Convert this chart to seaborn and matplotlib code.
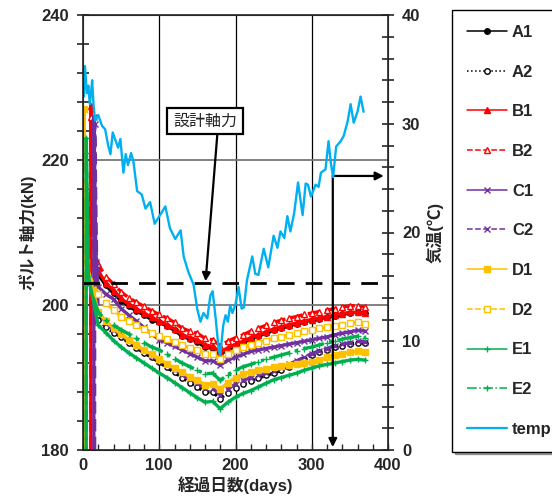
import matplotlib
matplotlib.use("Agg")
import numpy as np
import pandas as pd
import seaborn as sns
import matplotlib.pyplot as plt
from matplotlib.ticker import MultipleLocator
from matplotlib.lines import Line2D

# ---- data ----
names = ['A1', 'A2', 'B1', 'B2', 'C1', 'C2', 'D1', 'D2', 'E1', 'E2']

# tightening: day of start, peak value, value about 3 days later
start_days = [0, 0, 10, 10, 14, 15, 1, 1, 4, 4]
peaks = [227.0, 222.0, 227.5, 226.0, 226.0, 225.0, 227.0, 218.0, 223.0, 221.0]
settle = [208.0, 206.0, 209.0, 209.5, 206.0, 205.0, 206.0, 205.0, 204.0, 203.0]

days = [20, 30, 40, 50, 60, 70, 80, 90, 100, 110, 120, 130, 140, 150, 160, 170,
        180, 190, 200, 210, 220, 230, 240, 250, 260, 270, 280, 290, 300, 310,
        320, 330, 340, 350, 360, 370]

A1 = [204.2, 202.7, 201.6, 200.6, 199.8, 199.2, 198.6, 198.0, 197.6, 197.1, 196.5, 195.7,
      195.3, 194.9, 194.2, 194.0, 193.2, 193.8, 194.3, 194.8, 195.3, 195.7, 196.1, 196.5,
      196.8, 197.1, 197.4, 197.7, 197.9, 198.1, 198.3, 198.5, 198.7, 198.9, 199.0, 198.9]
A2 = [198.0, 197.0, 196.2, 195.6, 194.8, 194.1, 193.4, 192.8, 192.1, 191.4, 190.7, 190.0,
      189.3, 188.7, 188.0, 188.0, 187.1, 187.9, 188.6, 189.1, 189.5, 189.9, 190.3, 190.6,
      191.0, 191.5, 192.0, 192.5, 193.1, 193.5, 193.8, 194.2, 194.4, 194.6, 194.8, 194.7]
B1 = [204.7, 203.0, 202.0, 200.9, 200.1, 199.5, 198.9, 198.3, 197.8, 197.3, 196.7, 195.9,
      195.5, 195.2, 194.5, 194.3, 193.5, 194.1, 194.6, 195.0, 195.5, 195.9, 196.3, 196.7,
      197.0, 197.3, 197.5, 197.8, 198.0, 198.2, 198.4, 198.6, 198.8, 199.0, 199.0, 198.9]
B2 = [205.6, 203.9, 202.9, 201.8, 201.0, 200.4, 199.8, 199.2, 198.7, 198.2, 197.6, 196.8,
      196.4, 196.1, 195.4, 195.2, 194.4, 195.0, 195.5, 195.9, 196.4, 196.8, 197.2, 197.6,
      197.9, 198.2, 198.4, 198.7, 198.9, 199.1, 199.3, 199.5, 199.7, 199.9, 199.9, 199.7]
C1 = [202.5, 201.5, 200.8, 199.5, 198.6, 197.8, 196.9, 196.0, 195.2, 194.8, 194.3, 193.8,
      193.3, 192.8, 192.3, 192.3, 191.7, 192.4, 192.8, 193.2, 193.6, 193.8, 194.0, 194.2,
      194.4, 194.6, 194.8, 195.0, 195.2, 195.4, 195.6, 195.9, 196.1, 196.3, 196.5, 196.4]
C2 = [199.0, 197.6, 196.6, 195.8, 195.0, 194.3, 193.6, 193.0, 192.3, 191.7, 191.1, 190.4,
      189.8, 189.2, 188.5, 188.5, 187.6, 188.4, 189.1, 189.6, 190.0, 190.3, 190.6, 190.9,
      191.3, 191.8, 192.3, 192.8, 193.3, 193.7, 194.0, 194.4, 194.6, 194.8, 195.0, 194.9]
D1 = [199.0, 197.8, 196.8, 196.0, 195.2, 194.5, 193.8, 193.2, 192.5, 191.9, 191.3, 190.7,
      190.1, 189.6, 189.0, 189.1, 188.4, 189.3, 190.0, 190.5, 190.8, 191.0, 191.2, 191.4,
      191.6, 191.7, 191.9, 192.0, 192.1, 192.4, 192.8, 193.1, 193.3, 193.5, 193.6, 193.5]
D2 = [201.5, 200.3, 199.3, 198.4, 197.8, 197.2, 196.7, 196.2, 195.7, 195.3, 194.9, 194.5,
      194.1, 193.8, 193.3, 193.2, 192.6, 193.3, 193.8, 194.2, 194.5, 194.8, 195.1, 195.4,
      195.6, 195.9, 196.1, 196.4, 196.6, 196.8, 196.9, 197.1, 197.3, 197.5, 197.6, 197.4]
E1 = [197.2, 196.2, 195.1, 194.2, 193.4, 192.7, 192.0, 191.3, 190.6, 190.0, 189.3, 188.6,
      187.9, 187.2, 186.6, 186.7, 185.7, 186.6, 187.3, 187.8, 188.2, 188.7, 189.2, 189.7,
      190.0, 190.3, 190.6, 191.0, 191.3, 191.6, 191.8, 192.0, 192.2, 192.4, 192.5, 192.4]
E2 = [199.0, 197.9, 197.2, 196.6, 196.0, 195.4, 194.8, 194.2, 193.8, 193.2, 192.6, 192.0,
      191.5, 191.0, 190.5, 190.6, 189.6, 190.4, 191.0, 191.5, 191.8, 192.2, 192.5, 192.8,
      193.1, 193.4, 193.7, 194.0, 194.2, 194.5, 194.8, 195.0, 195.3, 195.5, 195.7, 195.5]

temp_days = [1, 2.6, 5, 7, 9, 11, 12, 14, 16, 20, 25, 29, 33, 36, 39, 42, 46, 49, 53, 56,
             59, 63, 66, 71, 77, 82, 88, 94, 101, 108, 114, 121, 128, 132, 138, 145, 150,
             154, 158, 163, 167, 170, 174, 178, 180, 184, 187, 190, 193, 196, 200, 204, 208,
             211, 215, 222, 226, 230, 237, 243, 250, 255, 259, 264, 268, 272, 277, 282, 288,
             292, 295, 299, 305, 309, 312, 318, 322, 325, 328, 332, 338, 342, 347, 351, 355,
             360, 364, 366, 368]
temp = [32.5, 35.3, 32.8, 33.5, 31.8, 33.2, 34.0, 31.5, 30.3, 30.8, 29.8, 29.5, 28.0, 27.2,
        29.2, 28.6, 27.8, 28.6, 25.5, 27.2, 26.2, 27.3, 26.6, 23.8, 23.5, 22.2, 22.8, 20.8,
        21.6, 22.4, 20.4, 19.4, 20.2, 17.8, 16.4, 15.2, 12.9, 11.8, 12.6, 12.1, 14.2, 14.6,
        12.1, 9.2, 8.7, 11.5, 12.4, 11.8, 13.3, 12.6, 13.4, 15.0, 13.0, 13.1, 15.6, 17.8,
        16.2, 16.1, 18.5, 16.8, 19.7, 18.6, 20.1, 19.5, 21.5, 20.1, 21.8, 24.6, 21.6, 24.5,
        24.4, 23.3, 24.4, 24.2, 25.5, 25.8, 28.4, 26.4, 25.1, 27.9, 28.4, 28.9, 30.2, 31.8,
        30.1, 31.1, 32.5, 31.8, 31.1]

design_force = 203.0

series = [A1, A2, B1, B2, C1, C2, D1, D2, E1, E2]

# ---- styles ----
colors = ['black', 'black', '#FF0000', '#FF0000', '#7030A0', '#7030A0',
          '#FFC000', '#FFC000', '#00B050', '#00B050']
markers = ['o', 'o', '^', '^', 'x', 'x', 's', 's', '+', '+']
linestyles = ['-', ':', '-', '--', '-', '--', '-', '--', '-', '-.']
filled = [True, False, True, False, True, True, True, False, True, True]
temp_color = '#00B0F0'

sns.set_style('ticks')
plt.rcParams['font.family'] = ['Liberation Sans', 'Noto Sans CJK JP', 'DejaVu Sans']
plt.rcParams['axes.unicode_minus'] = False

fig = plt.figure(figsize=(5.52, 5.01), dpi=100)
ax = fig.add_axes([83 / 552, 1 - 450 / 501, 305 / 552, 435 / 501])

# grid lines
for d in [100, 200, 300]:
    ax.axvline(d, color='black', lw=0.9, zorder=0)
for v in [200, 220]:
    ax.axhline(v, color='#777777', lw=1.3, zorder=0)
ax.axhline(design_force, color='black', lw=2.0, ls=(0, (6, 4)), zorder=3)

for name, vals, d0, pk, st, c, m, ls, f in zip(names, series, start_days, peaks, settle,
                                                colors, markers, linestyles, filled):
    df = pd.DataFrame({'day': [d0, d0 + 0.3, d0 + 3] + days,
                       'force': [0.0, pk, st] + vals})
    sns.lineplot(data=df, x='day', y='force', ax=ax, color=c, lw=2.4, ls=ls,
                 marker=m, markersize=3.8, markeredgewidth=1.0,
                 markerfacecolor=(c if f else 'white'), markeredgecolor=c,
                 estimator=None, sort=False, legend=False, zorder=2)

ax.set_xlim(0, 400)
ax.set_ylim(180, 240)
ax.xaxis.set_major_locator(MultipleLocator(100))
ax.xaxis.set_minor_locator(MultipleLocator(20))
ax.yaxis.set_major_locator(MultipleLocator(20))
ax.yaxis.set_minor_locator(MultipleLocator(4))
ax.tick_params(axis='y', which='both', direction='inout', length=8, width=1.2,
               labelsize=12, pad=6)
ax.tick_params(axis='x', which='both', direction='in', length=4, width=1.0,
               labelsize=12, pad=6)
for lab in ax.get_xticklabels() + ax.get_yticklabels():
    lab.set_fontweight('bold')
for s in ax.spines.values():
    s.set_linewidth(1.2)
ax.set_xlabel('経過日数(days)', fontsize=12, fontweight='bold', labelpad=2)
ax.set_ylabel('ボルト軸力(kN)', fontsize=12, fontweight='bold', labelpad=4)

# temperature on right axis
ax2 = ax.twinx()
tdf = pd.DataFrame({'day': temp_days, 'temp': temp})
sns.lineplot(data=tdf, x='day', y='temp', ax=ax2, color=temp_color, lw=1.7,
             estimator=None, sort=False, legend=False)
ax2.set_ylim(0, 40)
ax2.yaxis.set_major_locator(MultipleLocator(10))
ax2.yaxis.set_minor_locator(MultipleLocator(2))
ax2.tick_params(axis='y', which='both', direction='inout', length=8, width=1.2,
                labelsize=12, pad=6)
for lab in ax2.get_yticklabels():
    lab.set_fontweight('bold')
ax2.set_ylabel('気温(℃)', fontsize=12, fontweight='bold', labelpad=4)

# annotations
ax.annotate('設計軸力', xy=(160.5, 202.9), xytext=(160, 225.4),
            fontsize=11.5, ha='center', va='center',
            bbox=dict(boxstyle='square,pad=0.35', fc='white', ec='black', lw=1.6),
            arrowprops=dict(arrowstyle='-|>', color='black', lw=1.6,
                            mutation_scale=12, shrinkA=0, relpos=(0.7, 0)))
ax.annotate('', xy=(327.6, 180.4), xytext=(327.6, 217.8),
            arrowprops=dict(arrowstyle='-|>', color='black', lw=1.6,
                            mutation_scale=12, shrinkA=0, shrinkB=0))
ax.annotate('', xy=(394.5, 217.8), xytext=(327.6, 217.8),
            arrowprops=dict(arrowstyle='-|>', color='black', lw=1.6,
                            mutation_scale=12, shrinkA=0, shrinkB=0))

# legend outside on the right
handles = []
for name, c, m, ls, f in zip(names, colors, markers, linestyles, filled):
    handles.append(Line2D([], [], color=c, ls=ls, lw=1.1, marker=m, markersize=4,
                          markerfacecolor=(c if f else 'white'), markeredgecolor=c))
handles.append(Line2D([], [], color=temp_color, lw=1.6))
leg = fig.legend(handles, names + ['temp'], loc='upper left',
                 bbox_to_anchor=(452 / 552, 1 - 10 / 501), frameon=True,
                 fancybox=False, shadow=True, edgecolor='black',
                 prop={'weight': 'bold', 'size': 12}, labelspacing=1.48,
                 handlelength=2.4, handletextpad=0.3, borderpad=0.9,
                 borderaxespad=0)
leg.get_frame().set_linewidth(1.0)

fig.savefig('out.png', dpi=100)
